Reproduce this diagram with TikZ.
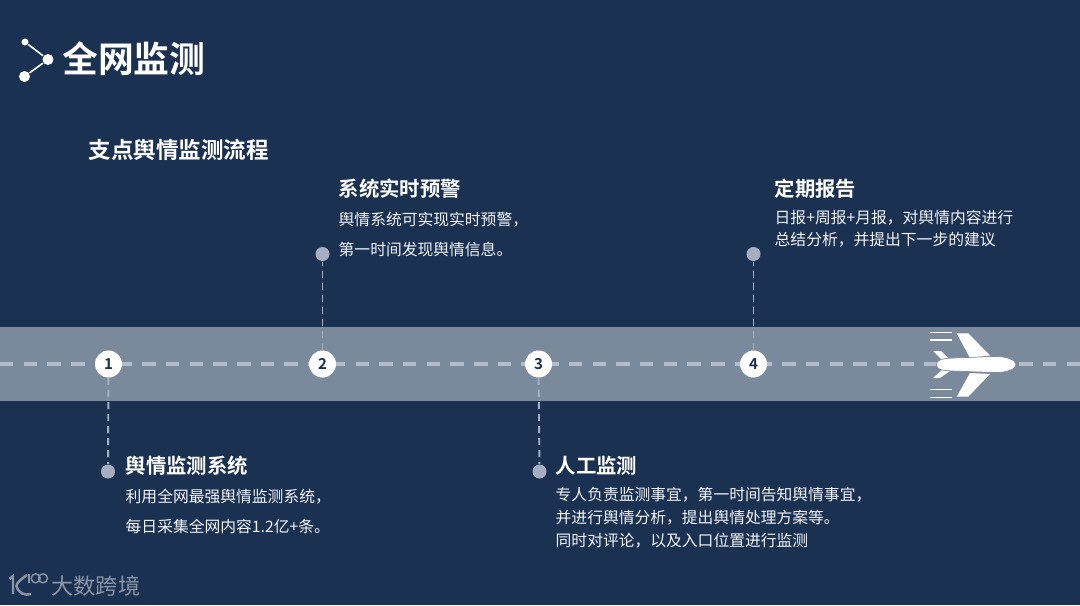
\documentclass[tikz,border=0pt]{standalone}
\usepackage{fontspec}
\setmainfont{Noto Sans CJK SC}
\newfontfamily\cjkbold{Noto Sans CJK SC Bold}
\definecolor{bgblue}{HTML}{1B3152}
\definecolor{bandgrey}{HTML}{7B899C}
\definecolor{dashgrey}{HTML}{B3BDCC}
\definecolor{dotgrey}{HTML}{A6AFC2}
\definecolor{logogrey}{HTML}{8A96A6}
\definecolor{bodywhite}{HTML}{F2F4F7}
\tikzset{
    headtext/.style={anchor=west, inner sep=0pt, text=white, font=\cjkbold\fontsize{5.8pt}{7pt}\selectfont},
    bodytext/.style={anchor=west, inner sep=0pt, text=bodywhite, align=left, font=\fontsize{4.49pt}{#1}\selectfont},
    numdot/.style={circle, fill=white, minimum size=0.27cm, inner sep=0pt, text=bgblue, font=\cjkbold\fontsize{4.3pt}{5pt}\selectfont},
    enddot/.style={circle, fill=dotgrey, minimum size=0.14cm, inner sep=0pt},
    linkdash/.style={dotgrey, line width=0.55pt, dash pattern=on 0.07cm off 0.05cm},
    icondot/.style={circle, fill=white, inner sep=0pt}
}
\begin{document}
\begin{tikzpicture}[>=stealth]
    \useasboundingbox (0,0) rectangle (10.8,6.05);
    \fill[bgblue] (0,0) rectangle (10.8,6.05);
    % Startbahn
    \fill[bandgrey] (0,2.04) rectangle (10.8,2.78);
    \coordinate (runwayL) at (0,2.41);
    \coordinate (runwayR) at (10.8,2.41);
    \draw[dashgrey, line width=1pt, dash pattern=on 0.135cm off 0.102cm] (runwayL) -- (runwayR);

    % Kopf
    \node[icondot, minimum size=0.07cm] (iconA) at (0.25,5.63) {};
    \node[icondot, minimum size=0.11cm] (iconB) at (0.48,5.455) {};
    \node[icondot, minimum size=0.11cm] (iconC) at (0.245,5.285) {};
    \draw[white, line width=0.45pt] (iconA) -- (iconB) -- (iconC);
    \node[anchor=west, inner sep=0pt, text=white, font=\cjkbold\fontsize{10.2pt}{12pt}\selectfont] (maintitle) at (0.615,5.46) {全网监测};
    \node[anchor=west, inner sep=0pt, text=white, font=\cjkbold\fontsize{6.4pt}{8pt}\selectfont] (subtitle) at (0.88,4.55) {支点舆情监测流程};

    % Stationen
    \node[numdot] (numA) at (1.085,2.41) {1};
    \node[numdot] (numB) at (3.225,2.41) {2};
    \node[numdot] (numC) at (5.385,2.41) {3};
    \node[numdot] (numD) at (7.535,2.41) {4};
    \node[enddot] (dotA) at (1.08,1.335) {};
    \node[enddot] (dotB) at (3.225,3.51) {};
    \node[enddot] (dotC) at (5.395,1.335) {};
    \node[enddot] (dotD) at (7.535,3.51) {};
    \foreach \a/\b in {numA/dotA,numB/dotB,numC/dotC,numD/dotD}
        \draw[linkdash] (\a) -- (\b);

    % Texte
    \node[headtext] (headA) at (1.25,1.39) {舆情监测系统};
    \node[bodytext=8.3pt] (bodyA) at (1.25,0.935) {利用全网最强舆情监测系统，\\每日采集全网内容1.2亿+条。};
    \node[headtext] (headB) at (3.38,4.16) {系统实时预警};
    \node[bodytext=8.3pt] (bodyB) at (3.38,3.705) {舆情系统可实现实时预警，\\第一时间发现舆情信息。};
    \node[headtext] (headC) at (5.55,1.39) {人工监测};
    \node[bodytext=6.55pt] (bodyC) at (5.55,0.87) {专人负责监测事宜，第一时间告知舆情事宜，\\并进行舆情分析，提出舆情处理方案等。\\同时对评论，以及入口位置进行监测};
    \node[headtext] (headD) at (7.74,4.16) {定期报告};
    \node[bodytext=6.3pt] (bodyD) at (7.74,3.76) {日报+周报+月报，对舆情内容进行\\总结分析，并提出下一步的建议};

    % Flugzeug
    \begin{scope}[shift={(9.73,2.41)}]
        \fill[white] (-0.163,0.307) -- (-0.047,0.307) -- (0.17,0.085) -- (-0.03,0.06) -- cycle;
        \fill[white] (-0.163,-0.327) -- (-0.047,-0.327) -- (0.17,-0.1) -- (-0.03,-0.09) -- cycle;
        \fill[white] (-0.4,0.13) -- (-0.32,0.13) -- (-0.23,0.045) -- (-0.3,0.03) -- cycle;
        \fill[white] (-0.4,-0.14) -- (-0.33,-0.14) -- (-0.23,-0.07) -- (-0.3,-0.05) -- cycle;
        \fill[white, draw=bandgrey, line width=0.2pt] (-0.365,-0.007) .. controls (-0.365,0.04) and (-0.32,0.055) .. (-0.2,0.06)
            -- (0.2,0.075) .. controls (0.34,0.08) and (0.43,0.04) .. (0.43,-0.007)
            .. controls (0.43,-0.05) and (0.34,-0.09) .. (0.2,-0.085)
            -- (-0.2,-0.07) .. controls (-0.32,-0.065) and (-0.365,-0.055) .. cycle;
        \foreach \y in {0.313,0.24,-0.257,-0.333}
            \draw[white, line width=0.3pt] (-0.43,\y) -- (-0.207,\y);
    \end{scope}

    % Logo
    \begin{scope}[logogrey, line width=0.7pt]
        \draw (0.095,0.26) -- (0.13,0.29) -- (0.13,0.11);
        \draw (0.27,0.3) .. controls (0.2,0.25) and (0.165,0.22) .. (0.165,0.19)
            .. controls (0.18,0.12) and (0.25,0.09) .. (0.31,0.11);
        \draw[line width=0.4pt] (0.29,0.31) -- (0.29,0.22);
        \draw[line width=0.4pt] (0.357,0.267) ellipse (0.045 and 0.045);
        \draw[line width=0.4pt] (0.43,0.267) ellipse (0.045 and 0.045);
    \end{scope}
    \node[anchor=west, inner sep=0pt, text=logogrey, font=\fontsize{6.3pt}{8pt}\selectfont] (logotext) at (0.51,0.19) {大数跨境};
\end{tikzpicture}
\end{document}
